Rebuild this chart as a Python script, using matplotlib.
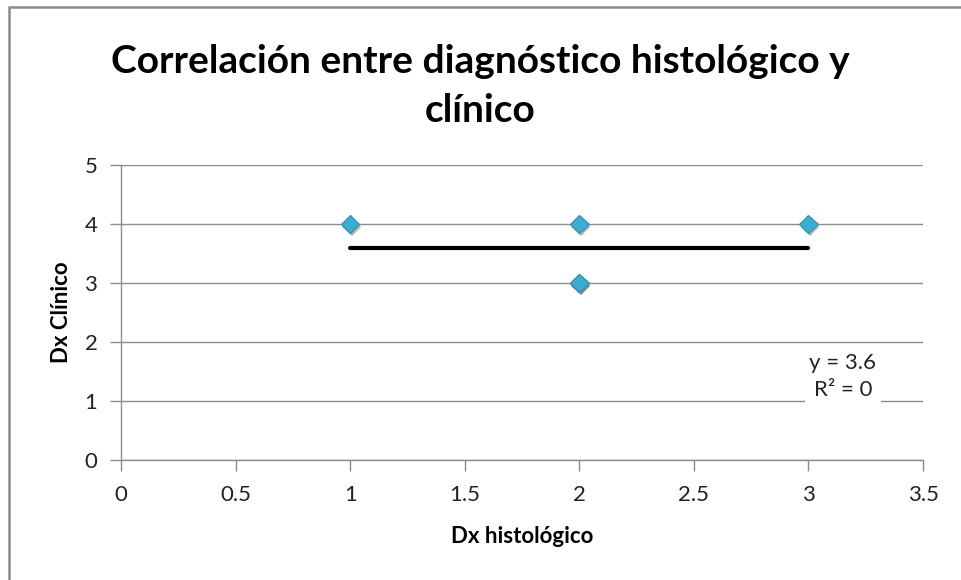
import matplotlib.pyplot as plt
import matplotlib.patheffects as pe
from matplotlib.patches import Rectangle
import numpy as np

# datos del gráfico
dx_histologico = [1, 2, 3, 2, 2]
dx_clinico = [4, 4, 4, 3, 3]
x_ticks = [0, 0.5, 1, 1.5, 2, 2.5, 3, 3.5]
y_ticks = [0, 1, 2, 3, 4, 5]

plt.rcParams['font.family'] = ['Lato', 'DejaVu Sans']

fig = plt.figure(figsize=(9.61, 5.8), dpi=100)
ax = fig.add_axes([0.1259, 0.2069, 0.8346, 0.5086])

# borde exterior (estilo Excel)
fig.patches.append(Rectangle((9 / 961, -0.1), 1.2, 1 - 7 / 580 + 0.1, transform=fig.transFigure,
                             fill=False, edgecolor='#8a8a8a', linewidth=1.8))

ax.grid(axis='y', color='#8c8c8c', linewidth=1)
ax.set_axisbelow(True)

# línea de tendencia lineal
m, b = np.polyfit(dx_histologico, dx_clinico, 1)
xs = np.array([min(dx_histologico), max(dx_histologico)])
ax.plot(xs, m * xs + b, color='black', linewidth=3, solid_capstyle='round', zorder=3)

ax.plot(dx_histologico, dx_clinico, linestyle='none', marker='D', markersize=9.5,
        markerfacecolor='#3aaed2', markeredgecolor='#2b8fb0', markeredgewidth=0.8, zorder=4,
        path_effects=[pe.SimplePatchShadow(offset=(1, -2), shadow_rgbFace='#555555', alpha=0.45), pe.Normal()])

ax.set_xlim(0, 3.5)
ax.set_ylim(0, 5)
ax.set_xticks(x_ticks)
ax.set_xticklabels(['0', '0.5', '1', '1.5', '2', '2.5', '3', '3.5'])
ax.set_yticks(y_ticks)

for s in ['top', 'right']:
    ax.spines[s].set_visible(False)
for s in ['left', 'bottom']:
    ax.spines[s].set_color('#8c8c8c')
    ax.spines[s].set_linewidth(1)
ax.tick_params(axis='both', direction='out', length=8, width=1, color='#8c8c8c',
               labelsize=16, labelcolor='#222222')
ax.tick_params(axis='x', pad=10)
ax.tick_params(axis='y', pad=9)

ax.set_xlabel('Dx histológico', fontsize=16, fontweight='bold', labelpad=15)
ax.set_ylabel('Dx Clínico', fontsize=16, fontweight='bold', labelpad=9)

fig.text(0.5, 1 - 86 / 580, 'Correlación entre diagnóstico histológico y\nclínico',
         ha='center', va='center', fontsize=28, fontweight='bold', linespacing=1.5)

ax.text(3.15, 1.42, 'y = 3.6\nR² = 0', ha='center', va='center', fontsize=16,
        linespacing=1.45, color='#222222',
        bbox=dict(facecolor='white', edgecolor='none', pad=3), zorder=5)

fig.savefig('out.png', dpi=100)
